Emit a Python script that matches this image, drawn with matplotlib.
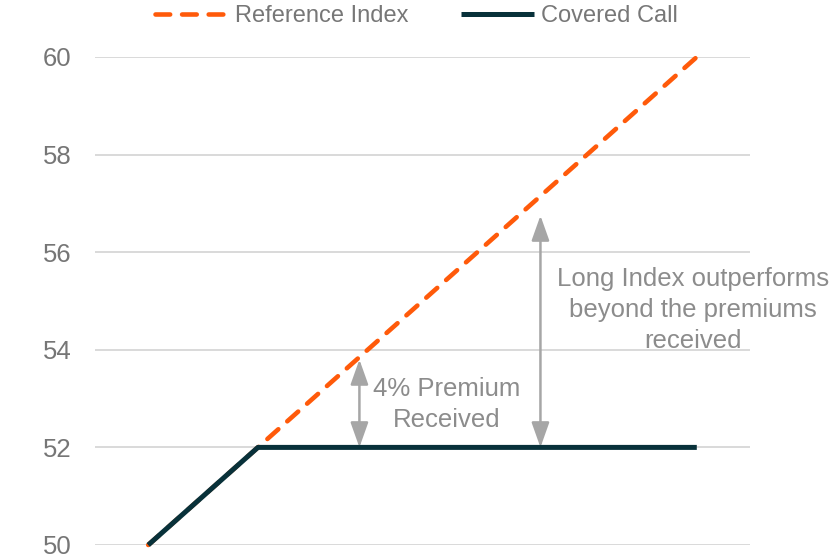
import matplotlib
matplotlib.use("Agg")
import matplotlib.pyplot as plt

plt.rcParams['font.family'] = ['Liberation Sans', 'DejaVu Sans']

# Data
index_level = [50, 52, 60]
reference_index = [50, 52, 60]
covered_call = [50, 52, 52]
y_ticks = [50, 52, 54, 56, 58, 60]

# annotation arrows: (x, y_bottom, y_top)
premium_arrow = (53.85, 52.0, 53.8)
outperf_arrow = (57.15, 52.0, 56.75)

ORANGE = '#FF5A0A'
DARK = '#08313A'
GRAY_TXT = '#8C8C8C'
ARROW = '#A6A6A6'

fig = plt.figure(figsize=(8.38, 5.59), dpi=100)
ax = fig.add_axes([95/838, 1-545/559, (750-95)/838, (545-57)/559])

ax.plot(index_level, reference_index, color=ORANGE, lw=3.3, linestyle=(0, (3.2, 2.6)),
        dash_capstyle='round', clip_on=False, zorder=3, label='Reference Index')
ax.plot(index_level, covered_call, color=DARK, lw=3.6, solid_capstyle='butt',
        clip_on=False, zorder=4, label='Covered Call')

ax.set_xlim(49.03, 60.97)
ax.set_ylim(50, 60)
ax.set_yticks(y_ticks)
ax.set_xticks([])
for s in ax.spines.values():
    s.set_visible(False)
ax.yaxis.grid(True, color='#D9D9D9', lw=1.4)
ax.set_axisbelow(True)
ax.tick_params(axis='y', length=0, pad=17, labelsize=18.5, labelcolor='#767676')

for (x, y0, y1) in [premium_arrow, outperf_arrow]:
    ax.annotate('', xy=(x, y1), xytext=(x, y0),
                arrowprops=dict(arrowstyle='<|-|>,head_length=0.9,head_width=0.32',
                                color=ARROW, lw=1.8, shrinkA=0, shrinkB=0,
                                mutation_scale=17), zorder=2)

ax.text(55.44, 52.88, '4% Premium\nReceived', ha='center', va='center',
        fontsize=18.5, color=GRAY_TXT, linespacing=1.4)
ax.text(59.93, 54.82, 'Long Index outperforms\nbeyond the premiums\nreceived',
        ha='center', va='center', fontsize=18.5, color=GRAY_TXT, linespacing=1.38,
        clip_on=False)

leg = fig.legend(loc='center', bbox_to_anchor=(0.497, 1-16/559), ncol=2, frameon=False,
                 fontsize=17, handlelength=3.1, handletextpad=0.3, columnspacing=2.2,
                 labelcolor='#777777')

fig.savefig('out.png', dpi=100)
